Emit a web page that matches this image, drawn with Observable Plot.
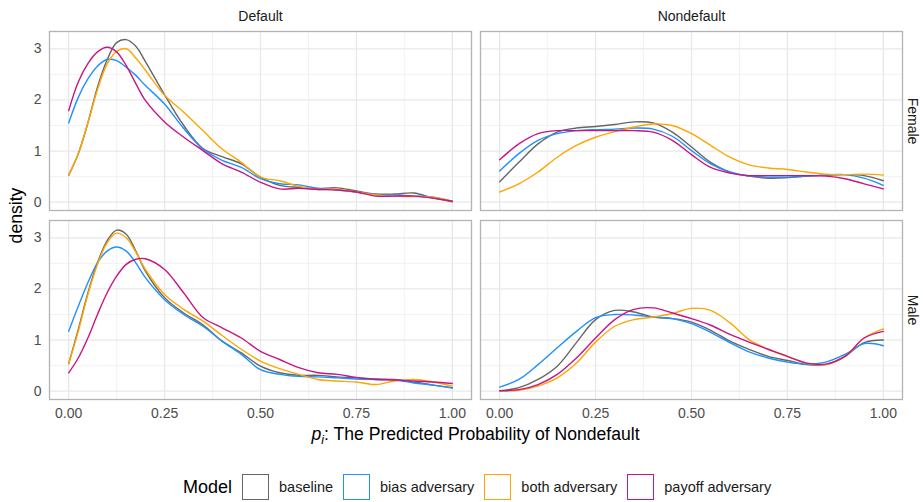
<!DOCTYPE html>
<html>
<head>
<meta charset="utf-8">
<script src="https://cdn.jsdelivr.net/npm/d3@7"></script>
<script src="https://cdn.jsdelivr.net/npm/@observablehq/plot@0.6"></script>
<style>
  body { margin: 0; background: #fff; font-family: "Liberation Sans", Arial, sans-serif; }
  #chart { position: relative; width: 923px; height: 502px; }
  #legend { position: absolute; left: 183px; top: 474px; height: 26px; display: flex; align-items: center; white-space: nowrap; }
  #legend .title { font-size: 18px; color: #000; margin-right: 9.5px; }
  #legend .key { width: 27px; height: 26px; box-sizing: border-box; border: 1.3px solid; background: #fff; flex: none; }
  #legend .lab { font-size: 14.5px; color: #1a1a1a; margin-left: 10.5px; margin-right: 9.5px; }
</style>
</head>
<body>
<div id="chart"></div>
<script>
// ---- categories ----
const models = ["baseline", "bias adversary", "both adversary", "payoff adversary"];
const modelColors = ["#666666", "#1E90FF", "#FFA500", "#C71585"];
const outcomes = ["Default", "Nondefault"];
const genders = ["Female", "Male"];
const legendTitle = "Model";
const yTitle = "density";
const xTitleVar = "p";
const xTitleSub = "i";
const xTitleRest = ": The Predicted Probability of Nondefault";

// ---- tick values ----
const xTicks = [0, 0.25, 0.5, 0.75, 1];
const xMinorTicks = [0.125, 0.375, 0.625, 0.875];
const yTicks = [0, 1, 2, 3];
const yMinorTicks = [0.5, 1.5, 2.5];

// ---- evaluation grids (p values) ----
const pDefault = [0, 0.025, 0.05, 0.075, 0.1, 0.125, 0.15, 0.175, 0.2, 0.25, 0.3, 0.35, 0.4, 0.45, 0.5, 0.55, 0.6, 0.65, 0.7, 0.75, 0.8, 0.85, 0.9, 0.95, 1];
const pNondefault = [0, 0.05, 0.1, 0.15, 0.2, 0.25, 0.3, 0.35, 0.4, 0.45, 0.5, 0.55, 0.6, 0.65, 0.7, 0.75, 0.8, 0.85, 0.9, 0.95, 1];

// ---- densities: Default / Female ----
const defFemBaseline = [0.53, 0.95, 1.55, 2.25, 2.78, 3.12, 3.18, 3.05, 2.75, 2.10, 1.50, 1.05, 0.89, 0.75, 0.49, 0.33, 0.29, 0.27, 0.28, 0.22, 0.16, 0.16, 0.18, 0.08, 0.01];
const defFemBias     = [1.55, 2.05, 2.41, 2.66, 2.79, 2.77, 2.64, 2.48, 2.28, 1.92, 1.44, 1.04, 0.82, 0.68, 0.46, 0.36, 0.34, 0.27, 0.24, 0.20, 0.15, 0.14, 0.12, 0.10, 0.02];
const defFemBoth     = [0.53, 0.95, 1.55, 2.20, 2.70, 2.95, 3.00, 2.82, 2.58, 2.09, 1.76, 1.40, 1.04, 0.78, 0.49, 0.42, 0.31, 0.25, 0.25, 0.20, 0.14, 0.12, 0.11, 0.10, 0.02];
const defFemPayoff   = [1.79, 2.35, 2.71, 2.94, 3.03, 2.94, 2.67, 2.32, 1.99, 1.57, 1.27, 1.01, 0.75, 0.59, 0.39, 0.26, 0.27, 0.25, 0.24, 0.20, 0.12, 0.12, 0.12, 0.08, 0.02];

// ---- densities: Default / Male ----
const defMaleBaseline = [0.54, 1.21, 1.92, 2.51, 2.94, 3.15, 3.07, 2.74, 2.35, 1.83, 1.53, 1.30, 0.98, 0.75, 0.49, 0.36, 0.31, 0.31, 0.28, 0.26, 0.24, 0.23, 0.18, 0.12, 0.07];
const defMaleBias     = [1.17, 1.66, 2.12, 2.51, 2.74, 2.82, 2.74, 2.51, 2.22, 1.79, 1.50, 1.27, 0.98, 0.72, 0.42, 0.33, 0.29, 0.28, 0.26, 0.24, 0.23, 0.22, 0.16, 0.12, 0.06];
const defMaleBoth     = [0.54, 1.17, 1.89, 2.48, 2.90, 3.09, 3.00, 2.72, 2.38, 1.89, 1.60, 1.37, 1.09, 0.82, 0.59, 0.44, 0.33, 0.23, 0.20, 0.18, 0.13, 0.20, 0.23, 0.18, 0.10];
const defMalePayoff   = [0.36, 0.65, 1.04, 1.50, 1.92, 2.25, 2.48, 2.58, 2.59, 2.38, 1.92, 1.44, 1.24, 1.04, 0.78, 0.62, 0.46, 0.36, 0.33, 0.27, 0.23, 0.22, 0.20, 0.18, 0.15];

// ---- densities: Nondefault / Female ----
const ndFemBaseline = [0.40, 0.78, 1.14, 1.37, 1.45, 1.48, 1.52, 1.57, 1.55, 1.37, 1.08, 0.78, 0.59, 0.51, 0.47, 0.48, 0.51, 0.53, 0.54, 0.52, 0.42];
const ndFemBias     = [0.61, 0.95, 1.21, 1.34, 1.40, 1.42, 1.43, 1.45, 1.43, 1.29, 1.01, 0.75, 0.59, 0.51, 0.49, 0.49, 0.51, 0.53, 0.54, 0.47, 0.33];
const ndFemBoth     = [0.20, 0.36, 0.59, 0.88, 1.11, 1.27, 1.38, 1.47, 1.53, 1.50, 1.34, 1.11, 0.88, 0.73, 0.67, 0.64, 0.59, 0.55, 0.54, 0.55, 0.53];
const ndFemPayoff   = [0.83, 1.14, 1.34, 1.40, 1.40, 1.40, 1.40, 1.40, 1.37, 1.21, 0.93, 0.68, 0.57, 0.52, 0.52, 0.52, 0.52, 0.51, 0.46, 0.36, 0.26];

// ---- densities: Nondefault / Male ----
const ndMaleBaseline = [0.01, 0.07, 0.23, 0.49, 0.95, 1.40, 1.58, 1.55, 1.45, 1.42, 1.35, 1.19, 0.98, 0.82, 0.68, 0.60, 0.52, 0.52, 0.68, 0.95, 1.00];
const ndMaleBias     = [0.08, 0.23, 0.52, 0.85, 1.17, 1.44, 1.50, 1.49, 1.45, 1.42, 1.32, 1.15, 0.95, 0.77, 0.65, 0.57, 0.53, 0.57, 0.72, 0.93, 0.89];
const ndMaleBoth     = [0.01, 0.02, 0.10, 0.26, 0.55, 0.96, 1.27, 1.40, 1.45, 1.52, 1.62, 1.58, 1.34, 1.01, 0.82, 0.68, 0.55, 0.52, 0.68, 1.04, 1.22];
const ndMalePayoff   = [0.01, 0.03, 0.13, 0.33, 0.65, 1.04, 1.40, 1.60, 1.63, 1.53, 1.42, 1.29, 1.11, 0.96, 0.82, 0.68, 0.55, 0.53, 0.68, 1.04, 1.17];

// ---- build tidy table ----
const series = [
  ["Default", "Female", pDefault, [defFemBaseline, defFemBias, defFemBoth, defFemPayoff]],
  ["Default", "Male", pDefault, [defMaleBaseline, defMaleBias, defMaleBoth, defMalePayoff]],
  ["Nondefault", "Female", pNondefault, [ndFemBaseline, ndFemBias, ndFemBoth, ndFemPayoff]],
  ["Nondefault", "Male", pNondefault, [ndMaleBaseline, ndMaleBias, ndMaleBoth, ndMalePayoff]]
];
const rows = [];
for (const [outcome, gender, grid, sets] of series) {
  sets.forEach((vals, mi) => {
    vals.forEach((d, i) => rows.push({p: grid[i], d, outcome, gender, model: models[mi]}));
  });
}

const topStrips = outcomes.map(o => ({outcome: o, gender: genders[0], label: o}));
const rightStrips = genders.map(g => ({outcome: outcomes[outcomes.length - 1], gender: g, label: g}));

const plot = Plot.plot({
  width: 923,
  height: 460,
  marginTop: 31,
  marginBottom: 60,
  marginLeft: 49,
  marginRight: 21,
  style: {fontFamily: '"Liberation Sans", Arial, sans-serif', fontSize: "14px", background: "#fff", overflow: "visible"},
  x: {domain: [-0.05, 1.05], label: null},
  y: {domain: [-0.162, 3.338], label: null},
  fx: {domain: outcomes, paddingInner: 0.0209, paddingOuter: 0, axis: null, label: null},
  fy: {domain: genders, paddingInner: 0.0528, paddingOuter: 0, axis: null, label: null},
  color: {domain: models, range: modelColors},
  marks: [
    Plot.gridX(xMinorTicks, {stroke: "#efefef", strokeOpacity: 1, strokeWidth: 0.8}),
    Plot.gridY(yMinorTicks, {stroke: "#efefef", strokeOpacity: 1, strokeWidth: 0.8}),
    Plot.gridX(xTicks, {stroke: "#e8e8e8", strokeOpacity: 1, strokeWidth: 1.3}),
    Plot.gridY(yTicks, {stroke: "#e8e8e8", strokeOpacity: 1, strokeWidth: 1.3}),
    Plot.frame({stroke: "#b3b3b3", strokeWidth: 1.3}),
    Plot.axisX(xTicks, {tickSize: 0, tickPadding: 9, tickFormat: d3.format(".2f"), color: "#4d4d4d", label: null, fontSize: 14}),
    Plot.axisY(yTicks, {tickSize: 0, tickPadding: 8, tickFormat: d => String(d), color: "#4d4d4d", label: null, fontSize: 14}),
    Plot.line(rows, {x: "p", y: "d", z: "model", stroke: "model", fx: "outcome", fy: "gender", curve: "catmull-rom", strokeWidth: 1.4}),
    Plot.text(topStrips, {fx: "outcome", fy: "gender", text: "label", frameAnchor: "top", lineAnchor: "middle", dy: -15, fill: "#1a1a1a", fontSize: 14}),
    Plot.text(rightStrips, {fx: "outcome", fy: "gender", text: "label", frameAnchor: "right", lineAnchor: "middle", dx: 10, rotate: 90, textAnchor: "middle", fill: "#1a1a1a", fontSize: 14})
  ]
});

const svg = d3.select(plot);
svg.append("text")
  .attr("transform", "translate(16,215.5) rotate(-90)")
  .attr("text-anchor", "middle")
  .attr("dy", "0.35em")
  .attr("fill", "#000")
  .style("font-size", "17.6px")
  .text(yTitle);

const xt = svg.append("text")
  .attr("x", 475.5)
  .attr("y", 440)
  .attr("text-anchor", "middle")
  .attr("fill", "#000")
  .style("font-size", "17.6px");
xt.append("tspan").style("font-style", "italic").text(xTitleVar);
xt.append("tspan").style("font-style", "italic").style("font-size", "12.5px").attr("dy", 4).text(xTitleSub);
xt.append("tspan").attr("dy", -4).text(xTitleRest);

const chart = document.getElementById("chart");
chart.appendChild(plot);

const legend = document.createElement("div");
legend.id = "legend";
const t = document.createElement("span");
t.className = "title";
t.textContent = legendTitle;
legend.appendChild(t);
models.forEach((m, i) => {
  const k = document.createElement("span");
  k.className = "key";
  k.style.borderColor = modelColors[i];
  legend.appendChild(k);
  const l = document.createElement("span");
  l.className = "lab";
  l.textContent = m;
  legend.appendChild(l);
});
chart.appendChild(legend);
</script>
</body>
</html>
